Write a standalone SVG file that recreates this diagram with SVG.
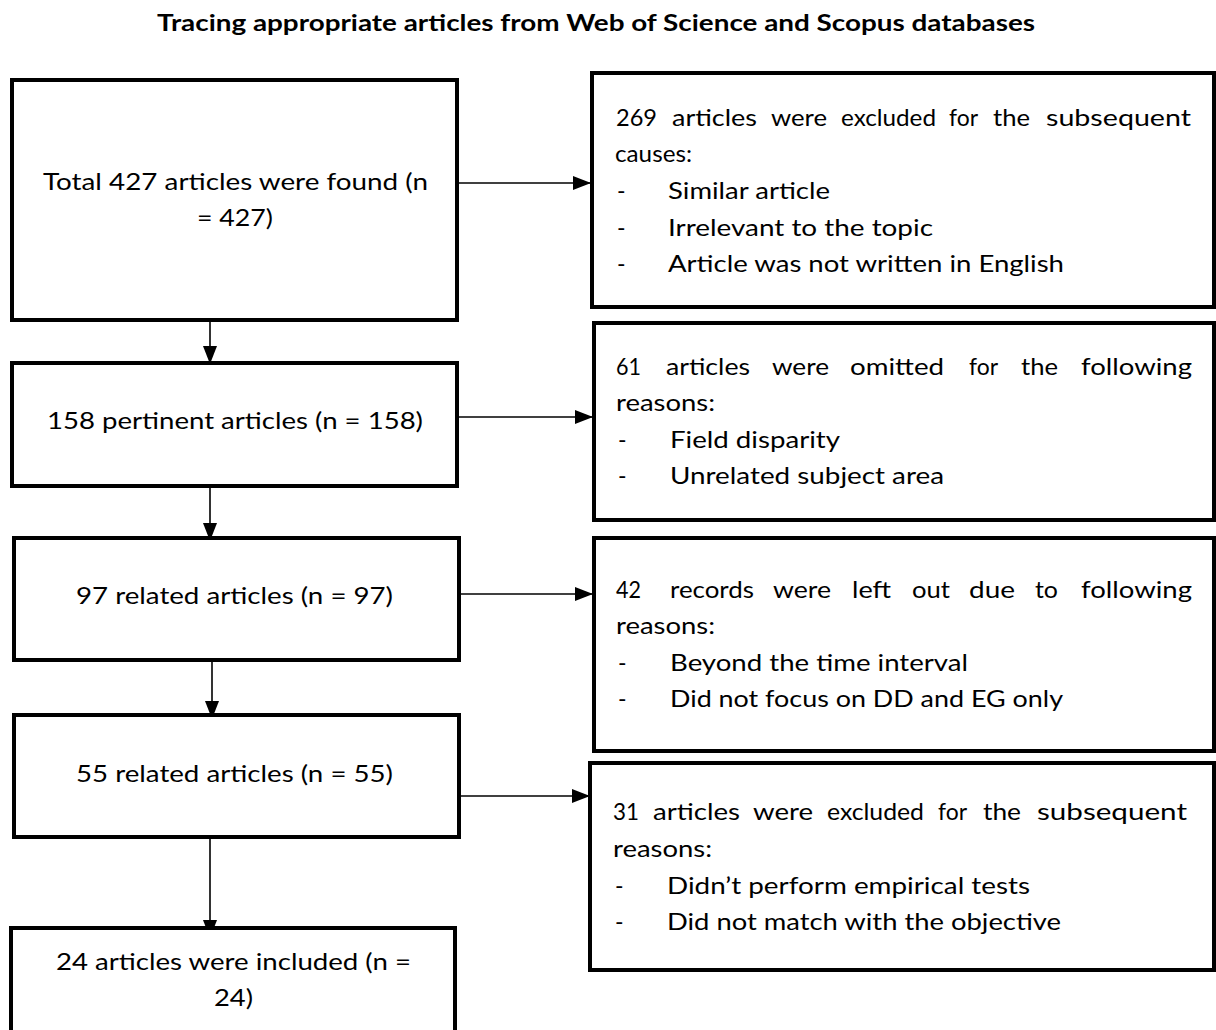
<svg xmlns="http://www.w3.org/2000/svg" width="1216" height="1030" viewBox="0 0 1216 1030">
<style>
.box{fill:#fff;stroke:#000;stroke-width:4}
.t{font-family:Lato,"Liberation Sans",Arial,sans-serif;font-size:23px;fill:#000}
.title{font-family:Lato,"Liberation Sans",Arial,sans-serif;font-size:23px;font-weight:bold;fill:#000;text-anchor:middle}
.conn{stroke:#000;stroke-width:1.6;fill:none}
</style>
<defs>
<marker id="ah" markerUnits="userSpaceOnUse" markerWidth="18" markerHeight="14" refX="17" refY="7" orient="auto">
<path d="M0,0 L18,7 L0,14 Z" fill="#000"/>
</marker>
</defs>
<rect width="1216" height="1030" fill="#fff"/>
<text class="title" x="596" y="31" textLength="878" lengthAdjust="spacingAndGlyphs">Tracing appropriate articles from Web of Science and Scopus databases</text>

<g id="connectors">
<line class="conn" x1="457" y1="183" x2="590" y2="183" marker-end="url(#ah)"/>
<line class="conn" x1="457" y1="417" x2="592" y2="417" marker-end="url(#ah)"/>
<line class="conn" x1="459" y1="594" x2="592" y2="594" marker-end="url(#ah)"/>
<line class="conn" x1="459" y1="796" x2="589" y2="796" marker-end="url(#ah)"/>
<line class="conn" x1="210" y1="298" x2="210" y2="363" marker-end="url(#ah)"/>
<line class="conn" x1="210" y1="477" x2="210" y2="540" marker-end="url(#ah)"/>
<line class="conn" x1="212" y1="654" x2="212" y2="718" marker-end="url(#ah)"/>
<line class="conn" x1="210" y1="830" x2="210" y2="937" marker-end="url(#ah)"/>
</g>

<g id="n1">
<rect class="box" x="12" y="80" width="445" height="240"/>
<text class="t" x="43" y="190" textLength="385" lengthAdjust="spacingAndGlyphs">Total 427 articles were found (n</text>
<text class="t" x="197" y="226" textLength="76" lengthAdjust="spacingAndGlyphs">= 427)</text>
</g>

<g id="x1">
<rect class="box" x="592" y="73" width="622" height="234"/>
<text class="t" y="126" lengthAdjust="spacingAndGlyphs"><tspan x="616" textLength="41" lengthAdjust="spacingAndGlyphs">269</tspan><tspan x="672" textLength="85" lengthAdjust="spacingAndGlyphs">articles</tspan><tspan x="771" textLength="56" lengthAdjust="spacingAndGlyphs">were</tspan><tspan x="841" textLength="95" lengthAdjust="spacingAndGlyphs">excluded</tspan><tspan x="949" textLength="29" lengthAdjust="spacingAndGlyphs">for</tspan><tspan x="993" textLength="37" lengthAdjust="spacingAndGlyphs">the</tspan><tspan x="1046" textLength="145" lengthAdjust="spacingAndGlyphs">subsequent</tspan></text>
<text class="t" x="615" y="162" textLength="77" lengthAdjust="spacingAndGlyphs">causes:</text>
<text class="t" x="617" y="199">-</text>
<text class="t" x="668" y="199" textLength="162" lengthAdjust="spacingAndGlyphs">Similar article</text>
<text class="t" x="617" y="236">-</text>
<text class="t" x="668" y="236" textLength="265" lengthAdjust="spacingAndGlyphs">Irrelevant to the topic</text>
<text class="t" x="617" y="272">-</text>
<text class="t" x="668" y="272" textLength="396" lengthAdjust="spacingAndGlyphs">Article was not written in English</text>
</g>

<g id="n2">
<rect class="box" x="12" y="363" width="445" height="123"/>
<text class="t" x="47" y="429" textLength="376" lengthAdjust="spacingAndGlyphs">158 pertinent articles (n = 158)</text>
</g>

<g id="x2">
<rect class="box" x="594" y="323" width="620" height="197"/>
<text class="t" y="375"><tspan x="616" textLength="25" lengthAdjust="spacingAndGlyphs">61</tspan><tspan x="666" textLength="84" lengthAdjust="spacingAndGlyphs">articles</tspan><tspan x="772" textLength="57" lengthAdjust="spacingAndGlyphs">were</tspan><tspan x="850" textLength="94" lengthAdjust="spacingAndGlyphs">omitted</tspan><tspan x="969" textLength="29" lengthAdjust="spacingAndGlyphs">for</tspan><tspan x="1021" textLength="37" lengthAdjust="spacingAndGlyphs">the</tspan><tspan x="1081" textLength="111" lengthAdjust="spacingAndGlyphs">following</tspan></text>
<text class="t" x="616" y="411" textLength="99" lengthAdjust="spacingAndGlyphs">reasons:</text>
<text class="t" x="618" y="448">-</text>
<text class="t" x="670" y="448" textLength="170" lengthAdjust="spacingAndGlyphs">Field disparity</text>
<text class="t" x="618" y="484">-</text>
<text class="t" x="670" y="484" textLength="274" lengthAdjust="spacingAndGlyphs">Unrelated subject area</text>
</g>

<g id="n3">
<rect class="box" x="14" y="538" width="445" height="122"/>
<text class="t" x="76" y="604" textLength="317" lengthAdjust="spacingAndGlyphs">97 related articles (n = 97)</text>
</g>

<g id="x3">
<rect class="box" x="594" y="538" width="620" height="213"/>
<text class="t" y="598"><tspan x="616" textLength="25" lengthAdjust="spacingAndGlyphs">42</tspan><tspan x="670" textLength="84" lengthAdjust="spacingAndGlyphs">records</tspan><tspan x="773" textLength="58" lengthAdjust="spacingAndGlyphs">were</tspan><tspan x="852" textLength="39" lengthAdjust="spacingAndGlyphs">left</tspan><tspan x="912" textLength="38" lengthAdjust="spacingAndGlyphs">out</tspan><tspan x="969" textLength="46" lengthAdjust="spacingAndGlyphs">due</tspan><tspan x="1035" textLength="23" lengthAdjust="spacingAndGlyphs">to</tspan><tspan x="1081" textLength="111" lengthAdjust="spacingAndGlyphs">following</tspan></text>
<text class="t" x="616" y="634" textLength="99" lengthAdjust="spacingAndGlyphs">reasons:</text>
<text class="t" x="618" y="671">-</text>
<text class="t" x="670" y="671" textLength="298" lengthAdjust="spacingAndGlyphs">Beyond the time interval</text>
<text class="t" x="618" y="707">-</text>
<text class="t" x="670" y="707" textLength="393" lengthAdjust="spacingAndGlyphs">Did not focus on DD and EG only</text>
</g>

<g id="n4">
<rect class="box" x="14" y="715" width="445" height="122"/>
<text class="t" x="76" y="782" textLength="317" lengthAdjust="spacingAndGlyphs">55 related articles (n = 55)</text>
</g>

<g id="x4">
<rect class="box" x="590" y="763" width="624" height="207"/>
<text class="t" y="820"><tspan x="613" textLength="26" lengthAdjust="spacingAndGlyphs">31</tspan><tspan x="653" textLength="87" lengthAdjust="spacingAndGlyphs">articles</tspan><tspan x="753" textLength="60" lengthAdjust="spacingAndGlyphs">were</tspan><tspan x="827" textLength="97" lengthAdjust="spacingAndGlyphs">excluded</tspan><tspan x="938" textLength="29" lengthAdjust="spacingAndGlyphs">for</tspan><tspan x="983" textLength="38" lengthAdjust="spacingAndGlyphs">the</tspan><tspan x="1037" textLength="150" lengthAdjust="spacingAndGlyphs">subsequent</tspan></text>
<text class="t" x="613" y="857" textLength="99" lengthAdjust="spacingAndGlyphs">reasons:</text>
<text class="t" x="615" y="894">-</text>
<text class="t" x="667" y="894" textLength="363" lengthAdjust="spacingAndGlyphs">Didn’t perform empirical tests</text>
<text class="t" x="615" y="930">-</text>
<text class="t" x="667" y="930" textLength="394" lengthAdjust="spacingAndGlyphs">Did not match with the objective</text>
</g>

<g id="n5">
<rect class="box" x="11" y="928" width="444" height="110"/>
<text class="t" x="56" y="970" textLength="355" lengthAdjust="spacingAndGlyphs">24 articles were included (n =</text>
<text class="t" x="214" y="1006" textLength="39" lengthAdjust="spacingAndGlyphs">24)</text>
</g>
</svg>
